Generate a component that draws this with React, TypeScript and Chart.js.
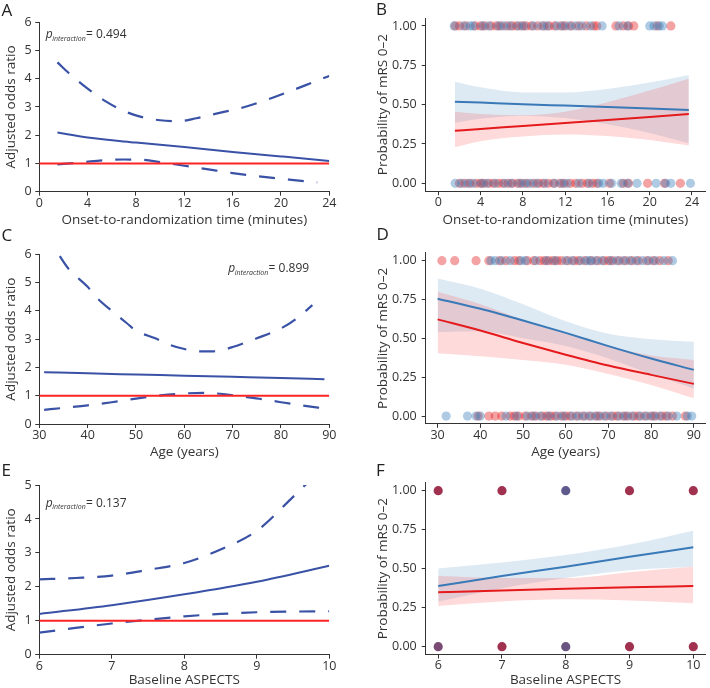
import React, { useEffect, useRef } from 'react';
import { Chart, registerables } from 'chart.js';

Chart.register(...registerables);

// ---------------- data ----------------
// Panel A: onset-to-randomization time, adjusted odds ratio
const aTicksX = [0, 4, 8, 12, 16, 20, 24];
const aTicksY = [0, 1, 2, 3, 4, 5, 6];
const aX = [1.5, 4, 8, 12, 16, 20, 24];
const aOR = [2.1, 1.92, 1.74, 1.58, 1.41, 1.25, 1.09];
const aUpperX = [1.5, 2.5, 4, 5.5, 7, 8.5, 10, 11.5, 13, 15, 17, 19, 21, 22.5, 24];
const aUpper = [4.58, 4.18, 3.65, 3.2, 2.86, 2.64, 2.53, 2.5, 2.6, 2.8, 3.0, 3.28, 3.6, 3.85, 4.1];
const aLowerX = [1.5, 3, 5, 7, 8.5, 10, 12, 14, 16, 18, 20, 22, 23];
const aLower = [0.97, 1.02, 1.1, 1.14, 1.13, 1.05, 0.92, 0.79, 0.66, 0.55, 0.46, 0.37, 0.33];
const aRefX = [0, 24];
const aP = '0.494';

// Panel B: onset-to-randomization time, probability of mRS 0-2
const bTicksX = [0, 4, 8, 12, 16, 20, 24];
const probTicks = [0, 0.25, 0.5, 0.75, 1];
const bX = [1.57, 4, 8, 12, 16, 20, 23.7];
const bBlue = [0.519, 0.513, 0.503, 0.494, 0.485, 0.476, 0.466];
const bBlueUp = [0.646, 0.61, 0.578, 0.578, 0.6, 0.64, 0.689];
const bBlueLo = [0.385, 0.41, 0.43, 0.415, 0.375, 0.32, 0.254];
const bRed = [0.334, 0.346, 0.364, 0.383, 0.402, 0.421, 0.44];
const bRedUp = [0.455, 0.44, 0.432, 0.455, 0.515, 0.59, 0.665];
const bRedLo = [0.229, 0.268, 0.298, 0.31, 0.3, 0.275, 0.24];
const bRedTop = [1.6, 2.0, 2.6, 3.5, 4.0, 4.4, 5.0, 5.5, 5.9, 6.5, 7.0, 7.4, 7.9, 8.3, 8.8, 9.4, 10.0, 10.5, 11.0, 11.6, 12.0, 12.6, 13.3, 14.0, 14.7, 15.0, 16.8, 17.5, 18.0, 18.5, 20.7, 22.0];
const bBlueTop = [1.5, 2.4, 3.0, 3.3, 4.2, 4.8, 5.7, 6.2, 6.8, 7.6, 8.1, 9.0, 9.8, 10.3, 11.2, 11.8, 12.4, 13.0, 13.6, 14.4, 15.5, 17.1, 17.9, 20.0, 20.4, 20.9, 21.2];
const bRedBottom = [2.0, 2.5, 3.0, 3.6, 4.0, 4.3, 4.8, 5.2, 5.7, 6.1, 6.6, 7.0, 7.5, 7.9, 8.4, 9.0, 9.5, 9.9, 10.4, 10.9, 11.5, 11.9, 12.5, 13.0, 13.6, 14.1, 14.6, 15.0, 16.2, 17.5, 18.0, 19.8, 21.4, 22.9];
const bBlueBottom = [1.6, 2.2, 2.8, 3.3, 4.1, 4.6, 5.4, 6.3, 6.9, 7.7, 8.2, 8.7, 9.3, 10.1, 11.0, 11.7, 12.2, 13.3, 14.3, 15.2, 15.6, 16.4, 17.3, 17.9, 18.8, 20.6, 21.5, 22.0, 23.85];

// Panel C: age, adjusted odds ratio
const cTicksX = [30, 40, 50, 60, 70, 80, 90];
const cTicksY = [0, 1, 2, 3, 4, 5, 6];
const cX = [31, 40, 50, 60, 70, 80, 89];
const cOR = [1.83, 1.79, 1.75, 1.71, 1.67, 1.63, 1.58];
const cUpperX = [31, 34, 36, 40, 42, 45, 48, 50, 54, 57, 60, 63, 66, 68, 70, 75, 80, 83, 86.5];
const cUpper = [6.8, 6.0, 5.5, 4.85, 4.45, 4.0, 3.58, 3.3, 3.03, 2.8, 2.65, 2.57, 2.57, 2.62, 2.72, 3.03, 3.38, 3.7, 4.2];
const cLowerX = [31, 35, 40, 45, 50, 55, 60, 64, 68, 72, 76, 80, 85, 89];
const cLower = [0.5, 0.57, 0.66, 0.77, 0.9, 1.01, 1.08, 1.1, 1.06, 0.97, 0.88, 0.77, 0.64, 0.55];
const cRefX = [30, 90];
const cP = '0.899';

// Panel D: age, probability of mRS 0-2
const dTicksX = [30, 40, 50, 60, 70, 80, 90];
const dX = [30, 40, 50, 60, 70, 80, 90];
const dBlue = [0.755, 0.69, 0.615, 0.535, 0.45, 0.37, 0.297];
const dBlueUp = [0.885, 0.82, 0.72, 0.61, 0.53, 0.495, 0.478];
const dBlueLo = [0.54, 0.545, 0.5, 0.45, 0.37, 0.27, 0.178];
const dRed = [0.622, 0.55, 0.47, 0.395, 0.325, 0.265, 0.207];
const dRedUp = [0.8, 0.72, 0.62, 0.53, 0.45, 0.39, 0.36];
const dRedLo = [0.404, 0.385, 0.36, 0.33, 0.27, 0.2, 0.114];
const dRedTop = [31, 34, 39, 42, 44.5, 46, 48, 49, 51, 52.5, 54, 55, 56, 57, 58, 59, 60.5, 62, 63, 64.5, 66, 67.5, 69, 70, 71, 72.5, 74, 75.5, 77, 79, 80.5, 82, 84];
const dBlueTop = [42.5, 43.5, 45, 47, 49.5, 50.5, 53, 55.5, 57.5, 60, 61.5, 63.5, 65, 65.8, 67, 68.5, 70.5, 72, 73.5, 75, 76.5, 78, 79.5, 81, 83, 85];
const dRedBottom = [39.5, 42, 43.5, 45, 47, 48, 49, 50.5, 52, 53, 54.5, 55.5, 56.5, 57.5, 59, 60, 61, 62.5, 64, 65.5, 67, 68, 69.5, 71, 72, 73.5, 74.5, 76, 77, 78.5, 80, 81, 82.5, 83.5, 85, 88];
const dBlueBottom = [32, 37, 39, 40, 46, 48.5, 51, 52.5, 54, 56, 58, 59.5, 61.5, 63, 64.5, 66, 67.5, 69, 70.5, 72.5, 74, 75.5, 77.5, 79, 80.5, 82, 84, 86, 88.5, 89.5];

// Panel E: baseline ASPECTS, adjusted odds ratio
const eTicksX = [6, 7, 8, 9, 10];
const eTicksY = [0, 1, 2, 3, 4, 5];
const eX = [6, 7, 8, 9, 10];
const eOR = [1.2, 1.46, 1.78, 2.15, 2.62];
const eUpperX = [6, 6.5, 7, 7.5, 8, 8.5, 9, 9.5, 10];
const eUpper = [2.22, 2.26, 2.33, 2.5, 2.7, 3.1, 3.65, 4.65, 5.7];
const eLowerX = [6, 6.5, 7, 7.5, 8, 8.5, 9, 9.5, 10];
const eLower = [0.65, 0.79, 0.92, 1.03, 1.13, 1.2, 1.25, 1.27, 1.28];
const eRefX = [6, 10];
const eP = '0.137';

// Panel F: baseline ASPECTS, probability of mRS 0-2
const fTicksX = [6, 7, 8, 9, 10];
const fX = [6, 7, 8, 9, 10];
const fBlue = [0.389, 0.453, 0.513, 0.577, 0.637];
const fBlueUp = [0.502, 0.54, 0.588, 0.655, 0.744];
const fBlueLo = [0.289, 0.375, 0.44, 0.49, 0.512];
const fRed = [0.349, 0.36, 0.372, 0.381, 0.389];
const fRedUp = [0.453, 0.44, 0.44, 0.478, 0.512];
const fRedLo = [0.261, 0.29, 0.304, 0.296, 0.278];
const fTopBlueShare = [0.2, 0.2, 0.7, 0.2, 0.2];
const fBottomBlueShare = [0.5, 0.2, 0.62, 0.2, 0.2];

// ---------------- styles ----------------
const FONT = "'Open Sans', 'Noto Sans', sans-serif";
const TXT = '#333333';
const OR_BLUE = '#3a52a6';
const OR_RED = '#ff2424';
const P_BLUE = '#3a79b8';
const P_RED = '#e41a1c';
const BLUE_RIBBON = 'rgba(55,126,184,0.17)';
const RED_RIBBON = 'rgba(248,60,60,0.19)';
const BLUE_DOT = 'rgba(55,126,184,0.4)';
const RED_DOT = 'rgba(228,26,28,0.4)';
const DASH = [16, 13];

const pts = (xs: number[], ys: number[]) => xs.map((x, i) => ({ x, y: ys[i] }));
const rowPts = (xs: number[], y: number) => xs.map((x) => ({ x, y }));
const mixColor = (s: number) =>
  `rgb(${Math.round(186 - 130 * s)},${Math.round(34 + 80 * s)},${Math.round(56 + 120 * s)})`;

function line(data: any[], color: string, width: number, order: number, dash?: number[]) {
  return {
    data,
    borderColor: color,
    borderWidth: width,
    borderDash: dash || [],
    pointRadius: 0,
    fill: false,
    cubicInterpolationMode: 'monotone',
    order,
  };
}

function ribbon(up: any[], lo: any[], color: string, order: number) {
  return [
    {
      data: up,
      borderColor: 'rgba(0,0,0,0)',
      borderWidth: 0,
      pointRadius: 0,
      fill: '+1',
      backgroundColor: color,
      cubicInterpolationMode: 'monotone',
      order,
    },
    {
      data: lo,
      borderColor: 'rgba(0,0,0,0)',
      borderWidth: 0,
      pointRadius: 0,
      fill: false,
      cubicInterpolationMode: 'monotone',
      order,
    },
  ];
}

function dots(data: any[], color: any, order: number) {
  return {
    data,
    showLine: false,
    borderColor: 'rgba(0,0,0,0)',
    pointRadius: 4.6,
    pointBackgroundColor: color,
    pointBorderWidth: 0,
    pointBorderColor: 'rgba(0,0,0,0)',
    order,
  };
}

interface Spec {
  box: [number, number, number, number];
  area: [number, number, number, number];
  xMin: number;
  xMax: number;
  xTicks: number[];
  xTitle: string;
  yMin: number;
  yMax: number;
  yTicks: number[];
  yTitle: string;
  yFmt: (v: number) => string;
  yLabelPad: number;
  yTitlePad: number;
  datasets: any[];
  letter: { text: string; x: number; y: number };
  annot?: { x: number; y: number; value: string };
}

function buildConfig(spec: Spec): any {
  const [bx, by, bw, bh] = spec.box;
  const [L, T, R, B] = spec.area;
  const tickFont = { family: FONT, size: 12.5, lineHeight: 1 };
  const titleFont = { family: FONT, size: 13.5, lineHeight: 1.2 };
  const grid = { display: true, drawOnChartArea: false, drawTicks: true, tickLength: 4, color: TXT, lineWidth: 1 };
  const border = { display: true, color: TXT, width: 1 };
  const textPlugin = {
    id: 'panelText',
    afterDraw(chart: any) {
      const ctx = chart.ctx;
      ctx.save();
      ctx.fillStyle = '#222';
      ctx.textAlign = 'left';
      ctx.textBaseline = 'alphabetic';
      ctx.font = `17px ${FONT}`;
      ctx.fillText(spec.letter.text, spec.letter.x - bx, spec.letter.y - by);
      if (spec.annot) {
        const ax = spec.annot.x - bx;
        const ay = spec.annot.y - by;
        ctx.fillStyle = TXT;
        ctx.font = `italic 12px ${FONT}`;
        ctx.fillText('p', ax, ay);
        let cx = ax + ctx.measureText('p').width - 0.5;
        ctx.font = `italic 7px ${FONT}`;
        ctx.fillText('interaction', cx, ay + 2.5);
        cx += ctx.measureText('interaction').width + 0.3;
        ctx.font = `12px ${FONT}`;
        ctx.fillText('= ' + spec.annot.value, cx, ay);
      }
      ctx.restore();
    },
  };
  return {
    type: 'line',
    data: { datasets: spec.datasets },
    options: {
      responsive: false,
      maintainAspectRatio: false,
      animation: false,
      devicePixelRatio: 1,
      events: [],
      layout: { padding: { left: 0, top: T - by, right: bx + bw - R, bottom: 0 } },
      plugins: { legend: { display: false }, tooltip: { enabled: false } },
      scales: {
        x: {
          type: 'linear',
          min: spec.xMin,
          max: spec.xMax,
          afterBuildTicks: (s: any) => {
            s.ticks = spec.xTicks.map((v) => ({ value: v }));
          },
          afterFit: (s: any) => {
            s.height = by + bh - B;
            s.paddingLeft = 0;
            s.paddingRight = 0;
          },
          ticks: { font: tickFont, color: TXT, padding: 1, maxRotation: 0, autoSkip: false, callback: (v: any) => String(v) },
          grid,
          border,
          title: { display: true, text: spec.xTitle, font: titleFont, color: TXT, padding: { top: 0, bottom: 0 } },
        },
        y: {
          type: 'linear',
          min: spec.yMin,
          max: spec.yMax,
          afterBuildTicks: (s: any) => {
            s.ticks = spec.yTicks.map((v) => ({ value: v }));
          },
          afterFit: (s: any) => {
            s.width = L - bx;
            s.paddingTop = 0;
            s.paddingBottom = 0;
          },
          ticks: { font: tickFont, color: TXT, padding: spec.yLabelPad, autoSkip: false, callback: (v: any) => spec.yFmt(Number(v)) },
          grid,
          border,
          title: { display: true, text: spec.yTitle, font: titleFont, color: TXT, padding: { top: spec.yTitlePad, bottom: 0 } },
        },
      },
    },
    plugins: [textPlugin],
  };
}

const intFmt = (v: number) => String(v);
const probFmt = (v: number) => v.toFixed(2);
const OR_TITLE = 'Adjusted odds ratio';
const P_TITLE = 'Probability of mRS 0–2';

const specs: Spec[] = [
  {
    box: [0, 0, 355, 228],
    area: [39.3, 22.3, 329.3, 191.7],
    xMin: 0, xMax: 24, xTicks: aTicksX, xTitle: 'Onset-to-randomization time (minutes)',
    yMin: 0, yMax: 6, yTicks: aTicksY, yTitle: OR_TITLE, yFmt: intFmt, yLabelPad: 3.6, yTitlePad: 3.5,
    datasets: [
      line(pts(aRefX, aRefX.map(() => 1)), OR_RED, 2, 0),
      line(pts(aX, aOR), OR_BLUE, 2, 1),
      line(pts(aUpperX, aUpper), OR_BLUE, 2.2, 1, DASH),
      line(pts(aLowerX, aLower), OR_BLUE, 2.2, 1, DASH),
    ],
    letter: { text: 'A', x: 1.5, y: 15.5 },
    annot: { x: 45.7, y: 38.3, value: aP },
  },
  {
    box: [355, 0, 355, 228],
    area: [425.7, 18.1, 705, 191.2],
    xMin: -1.19, xMax: 25.23, xTicks: bTicksX, xTitle: 'Onset-to-randomization time (minutes)',
    yMin: -0.05, yMax: 1.05, yTicks: probTicks, yTitle: P_TITLE, yFmt: probFmt, yLabelPad: 5, yTitlePad: 20.5,
    datasets: [
      line(pts(bX, bBlue), P_BLUE, 2, 1),
      line(pts(bX, bRed), P_RED, 2, 1),
      ...ribbon(pts(bX, bBlueUp), pts(bX, bBlueLo), BLUE_RIBBON, 6),
      ...ribbon(pts(bX, bRedUp), pts(bX, bRedLo), RED_RIBBON, 5),
      dots(rowPts(bRedTop, 1), RED_DOT, 3),
      dots(rowPts(bBlueTop, 1), BLUE_DOT, 2),
      dots(rowPts(bRedBottom, 0), RED_DOT, 3),
      dots(rowPts(bBlueBottom, 0), BLUE_DOT, 2),
    ],
    letter: { text: 'B', x: 376, y: 14.5 },
  },
  {
    box: [0, 225, 355, 235],
    area: [39.3, 254.3, 329.3, 424],
    xMin: 30, xMax: 90, xTicks: cTicksX, xTitle: 'Age (years)',
    yMin: 0, yMax: 6, yTicks: cTicksY, yTitle: OR_TITLE, yFmt: intFmt, yLabelPad: 3.6, yTitlePad: 3.5,
    datasets: [
      line(pts(cRefX, cRefX.map(() => 1)), OR_RED, 2, 0),
      line(pts(cX, cOR), OR_BLUE, 2, 1),
      line(pts(cUpperX, cUpper), OR_BLUE, 2.2, 1, DASH),
      line(pts(cLowerX, cLower), OR_BLUE, 2.2, 1, DASH),
    ],
    letter: { text: 'C', x: 1.5, y: 240.5 },
    annot: { x: 228.3, y: 272.3, value: cP },
  },
  {
    box: [355, 225, 355, 235],
    area: [425.7, 252.9, 707.3, 423.8],
    xMin: 27.21, xMax: 92.7, xTicks: dTicksX, xTitle: 'Age (years)',
    yMin: -0.05, yMax: 1.05, yTicks: probTicks, yTitle: P_TITLE, yFmt: probFmt, yLabelPad: 5, yTitlePad: 20.5,
    datasets: [
      line(pts(dX, dBlue), P_BLUE, 2, 1),
      line(pts(dX, dRed), P_RED, 2, 1),
      ...ribbon(pts(dX, dBlueUp), pts(dX, dBlueLo), BLUE_RIBBON, 6),
      ...ribbon(pts(dX, dRedUp), pts(dX, dRedLo), RED_RIBBON, 5),
      dots(rowPts(dRedTop, 1), RED_DOT, 3),
      dots(rowPts(dBlueTop, 1), BLUE_DOT, 2),
      dots(rowPts(dRedBottom, 0), RED_DOT, 3),
      dots(rowPts(dBlueBottom, 0), BLUE_DOT, 2),
    ],
    letter: { text: 'D', x: 376.5, y: 239.5 },
  },
  {
    box: [0, 450, 355, 238],
    area: [39.3, 485, 329.3, 654.7],
    xMin: 6, xMax: 10, xTicks: eTicksX, xTitle: 'Baseline ASPECTS',
    yMin: 0, yMax: 5, yTicks: eTicksY, yTitle: OR_TITLE, yFmt: intFmt, yLabelPad: 3.6, yTitlePad: 3.5,
    datasets: [
      line(pts(eRefX, eRefX.map(() => 1)), OR_RED, 2, 0),
      line(pts(eX, eOR), OR_BLUE, 2, 1),
      line(pts(eUpperX, eUpper), OR_BLUE, 2.2, 1, DASH),
      line(pts(eLowerX, eLower), OR_BLUE, 2.2, 1, DASH),
    ],
    letter: { text: 'E', x: 1.5, y: 475.5 },
    annot: { x: 45.7, y: 506.7, value: eP },
  },
  {
    box: [355, 450, 355, 238],
    area: [425.7, 482.9, 708, 654.5],
    xMin: 5.804, xMax: 10.19, xTicks: fTicksX, xTitle: 'Baseline ASPECTS',
    yMin: -0.05, yMax: 1.05, yTicks: probTicks, yTitle: P_TITLE, yFmt: probFmt, yLabelPad: 5, yTitlePad: 20.5,
    datasets: [
      line(pts(fX, fBlue), P_BLUE, 2, 1),
      line(pts(fX, fRed), P_RED, 2, 1),
      ...ribbon(pts(fX, fBlueUp), pts(fX, fBlueLo), BLUE_RIBBON, 6),
      ...ribbon(pts(fX, fRedUp), pts(fX, fRedLo), RED_RIBBON, 5),
      dots(rowPts(fX, 1), fTopBlueShare.map(mixColor), 2),
      dots(rowPts(fX, 0), fBottomBlueShare.map(mixColor), 2),
    ],
    letter: { text: 'F', x: 376, y: 475.5 },
  },
];

function Panel({ spec }: { spec: Spec }) {
  const ref = useRef<HTMLCanvasElement>(null);
  useEffect(() => {
    const chart = new Chart(ref.current as HTMLCanvasElement, buildConfig(spec));
    return () => chart.destroy();
  }, [spec]);
  const [x, y, w, h] = spec.box;
  return (
    <canvas
      ref={ref}
      width={w}
      height={h}
      style={{ position: 'absolute', left: x, top: y, width: w, height: h, display: 'block' }}
    />
  );
}

export default function App() {
  return (
    <div style={{ position: 'absolute', left: 0, top: 0, width: 710, height: 688, background: '#fff', overflow: 'hidden' }}>
      {specs.map((s, i) => (
        <Panel key={i} spec={s} />
      ))}
    </div>
  );
}
